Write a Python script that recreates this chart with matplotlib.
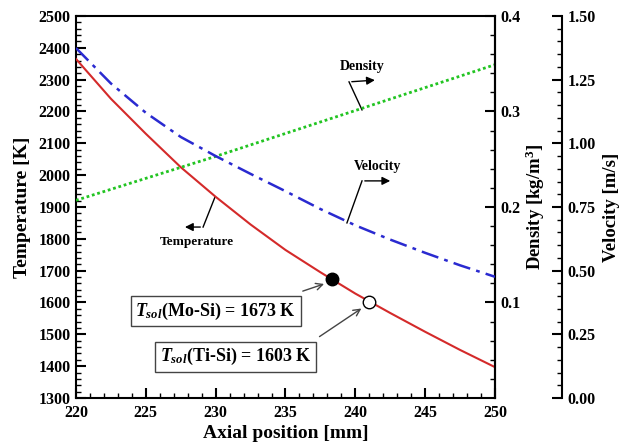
import numpy as np
import matplotlib
matplotlib.use("Agg")
import matplotlib.pyplot as plt
from matplotlib.ticker import MultipleLocator, FixedLocator, FormatStrFormatter

plt.rcParams["font.family"] = ["Liberation Serif", "DejaVu Serif"]
plt.rcParams["font.weight"] = "bold"
plt.rcParams["mathtext.fontset"] = "custom"
plt.rcParams["mathtext.rm"] = "Liberation Serif:bold"
plt.rcParams["mathtext.it"] = "Liberation Serif:italic:bold"
plt.rcParams["mathtext.bf"] = "Liberation Serif:bold"

# ── data ────────────────────────────────────────────────
pos_mm      = [220, 222.5, 225, 227.5, 230, 232.5, 235, 237.5, 240, 242.5, 245, 247.5, 250]
temperature = [2365, 2240, 2130, 2025, 1932, 1845, 1765, 1695, 1628, 1567, 1508, 1451, 1397]
velocity    = [1.374, 1.235, 1.120, 1.025, 0.950, 0.880, 0.812, 0.742, 0.678, 0.622, 0.570, 0.521, 0.476]
dens_pos    = [220, 225, 230, 235, 240, 245, 250]
density     = [0.207, 0.230, 0.253, 0.277, 0.301, 0.325, 0.349]

sol_pos  = [238.3, 241.0]
sol_temp = [1673, 1603]

fig = plt.figure(figsize=(6.23, 4.44), dpi=100)
ax = fig.add_axes([0.122, 0.1036, 0.6725, 0.8604])
ax_d = ax.twinx()
ax_v = ax.twinx()

# ── curves ──────────────────────────────────────────────
ax.plot(pos_mm, temperature, color="#d42a2a", lw=1.5, zorder=3)
ax_d.plot(dens_pos, density, color="#22c422", lw=2.0, linestyle=(0, (1, 1)))
ax_v.plot(pos_mm, velocity, color="#2a2ad0", lw=1.8, linestyle=(0, (7, 2.5, 1.5, 2.5)))

ax.plot(sol_pos[0], sol_temp[0], "o", ms=9, mfc="black", mec="black", zorder=5)
ax.plot(sol_pos[1], sol_temp[1], "o", ms=9, mfc="white", mec="black", mew=1.0, zorder=5)

# ── axes ────────────────────────────────────────────────
ax.set_xlim(220, 250)
ax.set_ylim(1300, 2500)
ax_d.set_ylim(0, 0.4)
ax_v.set_ylim(0, 1.5)

ax.xaxis.set_major_locator(MultipleLocator(5))
ax.xaxis.set_minor_locator(MultipleLocator(1))
ax.yaxis.set_major_locator(MultipleLocator(100))
ax.yaxis.set_minor_locator(MultipleLocator(20))
ax_d.yaxis.set_major_locator(FixedLocator([0.1, 0.2, 0.3, 0.4]))
ax_d.yaxis.set_minor_locator(FixedLocator([0.02, 0.04, 0.06, 0.08, 0.12, 0.14, 0.16, 0.18,
                                           0.22, 0.24, 0.26, 0.28, 0.32, 0.34, 0.36, 0.38]))
ax_d.yaxis.set_major_formatter(FormatStrFormatter("%.1f"))
ax_v.yaxis.set_major_locator(MultipleLocator(0.25))
ax_v.yaxis.set_minor_locator(MultipleLocator(0.05))
ax_v.yaxis.set_major_formatter(FormatStrFormatter("%.2f"))

ax_v.spines["right"].set_position(("axes", 1.16))
for s in ["top", "bottom", "left"]:
    ax_v.spines[s].set_visible(False)
    ax_d.spines[s].set_visible(False)

for a in (ax, ax_d, ax_v):
    for s in a.spines.values():
        s.set_linewidth(1.5)
    a.tick_params(which="major", direction="in", length=7, width=1.5, labelsize=11.5, pad=4)
    a.tick_params(which="minor", direction="in", length=3.5, width=1.0)
ax.tick_params(axis="x", pad=5)

ax.set_xlabel("Axial position [mm]", fontsize=14, fontweight="bold", labelpad=3)
ax.set_ylabel("Temperature [K]", fontsize=14, fontweight="bold", labelpad=5)
ax_d.set_ylabel(r"Density [kg/m$^{3}$]", fontsize=13.5, fontweight="bold", labelpad=2)
ax_v.set_ylabel("Velocity [m/s]", fontsize=13.5, fontweight="bold", labelpad=5)

# ── curve labels with leader arrows ─────────────────────
lead = dict(color="black", lw=1.0)
head = dict(arrowstyle="-|>", color="black", lw=1.0, mutation_scale=12)

ax.plot([240.48, 239.55], [2205, 2293], **lead)
ax.annotate("", xy=(241.6, 2299), xytext=(239.55, 2293), arrowprops=head)
ax.text(240.48, 2340, "Density", fontsize=10, fontweight="bold", ha="center", va="center")

ax.plot([239.4, 240.48], [1850, 1982], **lead)
ax.annotate("", xy=(242.7, 1982), xytext=(240.48, 1982), arrowprops=head)
ax.text(241.6, 2026, "Velocity", fontsize=10, fontweight="bold", ha="center", va="center")

ax.plot([229.95, 229.1], [1931, 1837], **lead)
ax.annotate("", xy=(227.6, 1837), xytext=(229.1, 1837), arrowprops=head)
ax.text(228.66, 1790, "Temperature", fontsize=9.5, fontweight="bold", ha="center", va="center")

# ── solidus boxes ───────────────────────────────────────
box = dict(boxstyle="square,pad=0.25", fc="white", ec="#444444", lw=1.0)
ptr = dict(arrowstyle="->", color="#444444", lw=1.0, mutation_scale=12)
ax.text(230.0, 1573, r"$T_{sol}$(Mo-Si) = 1673 K", fontsize=13, ha="center", va="center", bbox=box)
ax.annotate("", xy=(237.95, 1661), xytext=(236.05, 1633), arrowprops=ptr)
ax.text(231.45, 1429, r"$T_{sol}$(Ti-Si) = 1603 K", fontsize=13, ha="center", va="center", bbox=box)
ax.annotate("", xy=(240.6, 1586), xytext=(237.27, 1488), arrowprops=ptr)

fig.savefig("out.png", dpi=100)
